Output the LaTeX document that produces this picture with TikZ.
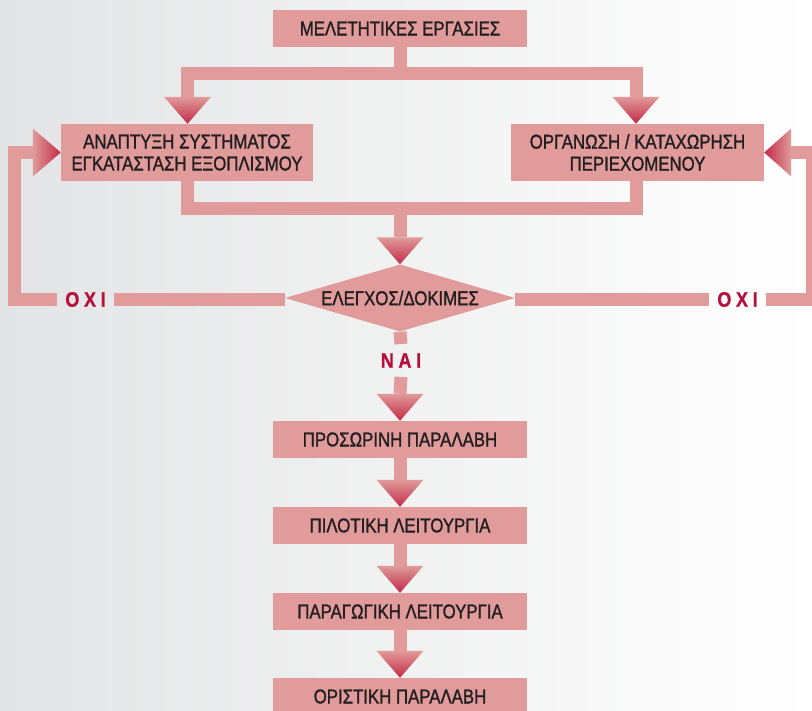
\documentclass[tikz,border=0pt]{standalone}
\usepackage{fontspec}
\setmainfont{Liberation Sans}[FakeStretch=0.84]
\newfontfamily\boxfont{Liberation Sans}[FakeStretch=0.84, FakeBold=1.3]
\newfontfamily\answerfont{Liberation Sans Bold}[FakeStretch=0.86, FakeBold=0.8, LetterSpace=22]
\usetikzlibrary{shapes.geometric,calc}

\definecolor{boxpink}{HTML}{E09B9A}
\definecolor{headred}{HTML}{C42A48}
\definecolor{labelred}{HTML}{B5103E}
\definecolor{textdark}{HTML}{231F20}
\definecolor{bgleft}{HTML}{E3E4E5}

\newcommand{\headdown}[1]{\shade[top color=boxpink, bottom color=headred] ($(#1)+(-23.5,27)$) -- ($(#1)+(23.5,27)$) -- (#1) -- cycle;}
\newcommand{\headright}[1]{\shade[left color=boxpink, right color=headred] ($(#1)+(-28,24)$) -- ($(#1)+(-28,-24)$) -- (#1) -- cycle;}
\newcommand{\headleft}[1]{\shade[left color=headred, right color=boxpink] ($(#1)+(27,24)$) -- ($(#1)+(27,-24)$) -- (#1) -- cycle;}

\begin{document}
\begin{tikzpicture}[x=1pt,y=1pt,
    stage/.style={fill=boxpink, text=textdark, inner sep=0pt, minimum width=254pt, minimum height=37pt, align=center, font=\boxfont\fontsize{20}{22}\selectfont},
    decision/.style={diamond, aspect=3.4, fill=boxpink, text=textdark, inner sep=0pt, minimum width=230pt, minimum height=67pt, font=\boxfont\fontsize{20}{22}\selectfont},
    flow/.style={draw=boxpink, line width=13pt},
    answer/.style={text=labelred, inner xsep=8pt, inner ysep=9pt, font=\answerfont\fontsize{21}{21}\selectfont}]
            \useasboundingbox (0,0) rectangle (812,711);
            \clip (0,0) rectangle (812,711);
            \shade [left color=bgleft, right color=white] (0,0) rectangle (812,711);
            \node [stage] (study) at (400,682.5) {ΜΕΛΕΤΗΤΙΚΕΣ ΕΡΓΑΣΙΕΣ};
            \node [stage, minimum width=252pt, minimum height=57pt] (devel) at (187,558.5) {ΑΝΑΠΤΥΞΗ ΣΥΣΤΗΜΑΤΟΣ\\ΕΓΚΑΤΑΣΤΑΣΗ ΕΞΟΠΛΙΣΜΟΥ};
            \node [stage, minimum width=253pt, minimum height=57pt] (organ) at (637.5,558.5) {ΟΡΓΑΝΩΣΗ / ΚΑΤΑΧΩΡΗΣΗ\\ΠΕΡΙΕΧΟΜΕΝΟΥ};
            \node [decision] (test) at (400,413) {ΕΛΕΓΧΟΣ/ΔΟΚΙΜΕΣ};
            \node [answer] (nol) at (85.5,411.5) {ΟΧΙ};
            \node [answer] (nor) at (737.5,411.5) {ΟΧΙ};
            \node [answer] (yes) at (401,350.5) {ΝΑΙ};
            \node [stage] (temp) at (400,271.5) {ΠΡΟΣΩΡΙΝΗ ΠΑΡΑΛΑΒΗ};
            \node [stage] (pilot) at (400,185.5) {ΠΙΛΟΤΙΚΗ ΛΕΙΤΟΥΡΓΙΑ};
            \node [stage] (prod) at (400,99.5) {ΠΑΡΑΓΩΓΙΚΗ ΛΕΙΤΟΥΡΓΙΑ};
            \node [stage] (final) at (400,14.5) {ΟΡΙΣΤΙΚΗ ΠΑΡΑΛΑΒΗ};
            \coordinate (forkl) at (187.5,637);
            \coordinate (forkr) at (636,637);
            \coordinate (joinl) at (187.5,502.5);
            \coordinate (joinr) at (636,502.5);
            \coordinate (joinm) at (400,502.5);
            \coordinate (loopl) at (14,411.5);
            \coordinate (loopr) at (812.5,411.5);
            \coordinate (backl) at (14,558.5);
            \coordinate (backr) at (812.5,558.5);
            \draw [flow] (study.south) -- (study.south |- forkl);
            \draw [flow] ($(devel.north -| forkl)+(0,27)$) -- (forkl) -- (forkr) -- ($(organ.north -| forkr)+(0,27)$);
            \headdown{devel.north -| forkl}
            \headdown{organ.north -| forkr}
            \draw [flow] (devel.south -| joinl) -- (joinl) -- (joinr) -- (organ.south -| joinr);
            \draw [flow] (joinm) -- ($(test.north)+(0,27)$);
            \headdown{test.north}
            \draw [flow] (test.west |- nol) -- (nol.east);
            \draw [flow] (nol.west) -- (loopl) -- (backl) -- ($(devel.west)+(-28,0)$);
            \headright{devel.west}
            \draw [flow] (test.east |- nor) -- (nor.west);
            \draw [flow] (nor.east) -- (loopr) -- (backr) -- ($(organ.east)+(27,0)$);
            \headleft{organ.east}
            \draw [flow] (test.south) -- (yes.north);
            \draw [flow] (yes.south) -- ($(temp.north)+(0,27)$);
            \headdown{temp.north}
            \draw [flow] (temp.south) -- ($(pilot.north)+(0,27)$);
            \headdown{pilot.north}
            \draw [flow] (pilot.south) -- ($(prod.north)+(0,27)$);
            \headdown{prod.north}
            \draw [flow] (prod.south) -- ($(final.north)+(0,27)$);
            \headdown{final.north}
        \end{tikzpicture}
\end{document}
